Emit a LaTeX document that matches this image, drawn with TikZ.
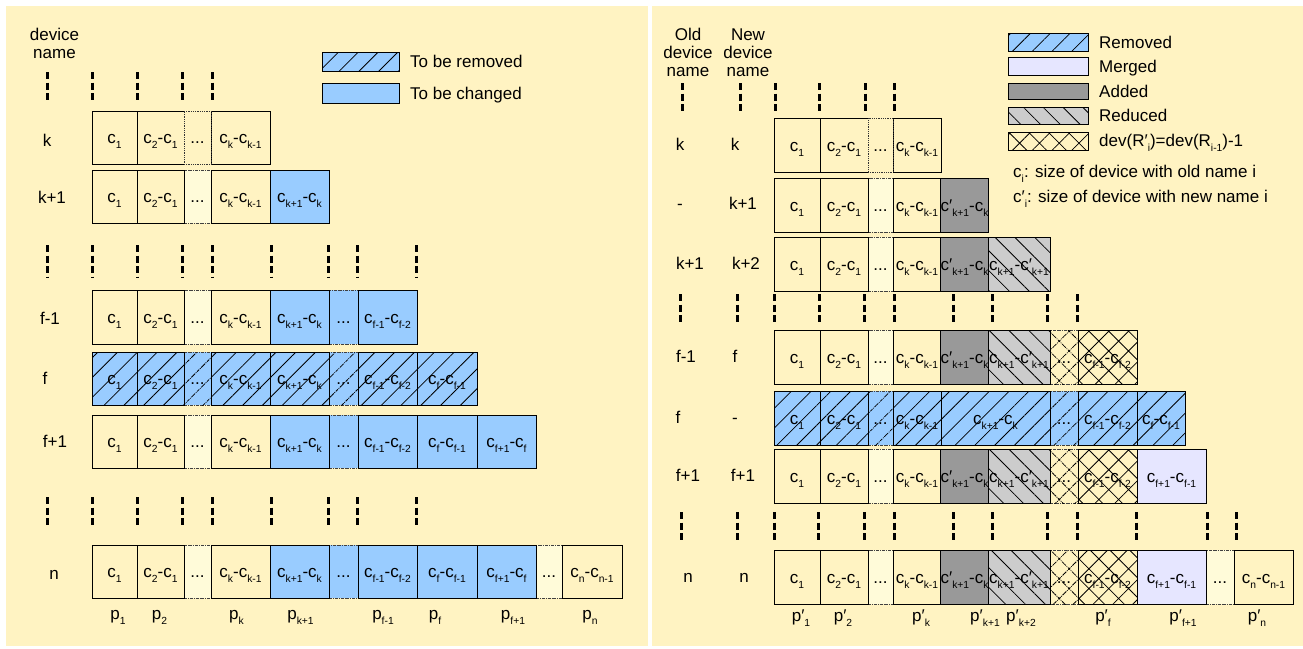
\documentclass[tikz,border=0pt]{standalone}
\usepackage{fontspec}
\setmainfont{Liberation Sans}
\usetikzlibrary{patterns.meta}

\definecolor{bgyel}{HTML}{FFF3C2}
\definecolor{paleyel}{HTML}{FFFBD9}
\definecolor{chblue}{HTML}{99CCFF}
\definecolor{addgray}{HTML}{999999}
\definecolor{redgray}{HTML}{CCCCCC}
\definecolor{mrgblue}{HTML}{E6E6FF}

% subscript and prime used in the size labels
\newcommand\sbs[1]{\raisebox{-5pt}{\fontsize{10.3}{12}\selectfont #1}}
\newcommand\pr{′}

% one cell of a device row: name, style, x1, x2, y1, y2, text
\newcommand\cell[7]{%
  \pgfmathsetmacro\cellw{#4-#3}%
  \pgfmathsetmacro\cellh{#6-#5}%
  \pgfmathsetmacro\cellx{(#3+#4)/2}%
  \pgfmathsetmacro\celly{(#5+#6)/2}%
  \node[cellbase,#2,minimum width=\cellw pt,minimum height=\cellh pt] (#1) at (\cellx,\celly) {#7};%
}

\tikzset{
  cellbase/.style={draw=black,line width=0.8pt,inner sep=0pt,outer sep=0pt,
    text height=13pt,text depth=1pt},
  plain/.style={fill=bgyel},
  dotk/.style={fill=bgyel,draw=black!80,densely dotted,line width=0.7pt},
  dotc/.style={densely dash dot,draw=black!75,line width=0.6pt},
  dotp/.style={fill=paleyel,dotc},
  chg/.style={fill=chblue},
  rem/.style={fill=chblue,postaction={pattern={Lines[angle=45,distance=14pt,line width=0.8pt]},pattern color=black}},
  addc/.style={fill=addgray},
  redc/.style={fill=redgray,postaction={pattern={Lines[angle=-45,distance=14pt,line width=0.8pt]},pattern color=black}},
  xh/.style={fill=bgyel,postaction={pattern={Hatch[angle=45,distance=14pt,line width=0.8pt]},pattern color=black}},
  mrg/.style={fill=mrgblue},
  vdash/.style={line width=3pt,dash pattern=on 7pt off 3.5pt},
  lbl/.style={anchor=base,inner sep=0pt},
  lblw/.style={anchor=base west,inner sep=0pt},
}

\begin{document}
\begin{tikzpicture}[x=1pt,y=-1pt,font=\fontsize{17}{19}\selectfont]
\useasboundingbox (0,0) rectangle (1303,648);
\fill[white] (0,0) rectangle (1303,648);
\fill[bgyel] (6,6) rectangle (648,646);
\fill[bgyel] (652,6) rectangle (1303,646);

% ---------------- left panel: before removal ----------------
\node[lbl] (hL1) at (54.5,40) {device};
\node[lbl] (hL2) at (54.5,58) {name};

\cell{lgRem}{rem}{322}{399}{52}{71}{}
\cell{lgChg}{chg}{322}{399}{83}{103}{}
\node[lblw] (tRem) at (410,67) {To be removed};
\node[lblw] (tChg) at (410,99) {To be changed};

\foreach \x in {47,92,137,182,212}
  \draw[vdash] (\x,72) -- (\x,102);
\foreach \x in {47,92,137,182,212,271,328,357,416}
  \draw[vdash] (\x,245) -- (\x,277);
\foreach \x in {47,92,137,182,212,271,328,357,416}
  \draw[vdash] (\x,497) -- (\x,528);

% row k
\node[lbl] (nk) at (47,146) {k};
\cell{Lk1}{plain}{92}{137}{111}{164}{c\sbs{1}}
\cell{Lk2}{plain}{137}{184}{111}{164}{c\sbs{2}-c\sbs{1}}
\cell{Lk4}{plain}{211}{270}{111}{164}{c\sbs{k}-c\sbs{k-1}}
\cell{Lk3}{dotk}{184}{211}{111}{164}{...}

% row k+1
\node[lbl] (nk1) at (52,203) {k+1};
\cell{La3}{dotp}{184}{211}{170}{223}{...}
\cell{La1}{plain}{92}{137}{170}{223}{c\sbs{1}}
\cell{La2}{plain}{137}{184}{170}{223}{c\sbs{2}-c\sbs{1}}
\cell{La4}{plain}{211}{270}{170}{223}{c\sbs{k}-c\sbs{k-1}}
\cell{La5}{chg}{270}{329}{170}{223}{c\sbs{k+1}-c\sbs{k}}

% row f-1
\node[lbl] (nfm) at (50,324) {f-1};
\cell{Lb3}{dotp}{184}{211}{290}{344}{...}
\cell{Lb6}{chg,dotc}{329}{358}{290}{344}{...}
\cell{Lb1}{plain}{92}{137}{290}{344}{c\sbs{1}}
\cell{Lb2}{plain}{137}{184}{290}{344}{c\sbs{2}-c\sbs{1}}
\cell{Lb4}{plain}{211}{270}{290}{344}{c\sbs{k}-c\sbs{k-1}}
\cell{Lb5}{chg}{270}{329}{290}{344}{c\sbs{k+1}-c\sbs{k}}
\cell{Lb7}{chg}{358}{417}{290}{344}{c\sbs{f-1}-c\sbs{f-2}}

% row f (removed)
\node[lbl] (nf) at (45,384) {f};
\cell{Lc3}{rem,dotc}{184}{211}{352}{405}{...}
\cell{Lc6}{rem,dotc}{329}{358}{352}{405}{...}
\cell{Lc1}{rem}{92}{137}{352}{405}{c\sbs{1}}
\cell{Lc2}{rem}{137}{184}{352}{405}{c\sbs{2}-c\sbs{1}}
\cell{Lc4}{rem}{211}{270}{352}{405}{c\sbs{k}-c\sbs{k-1}}
\cell{Lc5}{rem}{270}{329}{352}{405}{c\sbs{k+1}-c\sbs{k}}
\cell{Lc7}{rem}{358}{417}{352}{405}{c\sbs{f-1}-c\sbs{f-2}}
\cell{Lc8}{rem}{417}{477}{352}{405}{c\sbs{f}-c\sbs{f-1}}

% row f+1
\node[lbl] (nfp) at (55,447) {f+1};
\cell{Ld3}{dotp}{184}{211}{415}{468}{...}
\cell{Ld6}{chg,dotc}{329}{358}{415}{468}{...}
\cell{Ld1}{plain}{92}{137}{415}{468}{c\sbs{1}}
\cell{Ld2}{plain}{137}{184}{415}{468}{c\sbs{2}-c\sbs{1}}
\cell{Ld4}{plain}{211}{270}{415}{468}{c\sbs{k}-c\sbs{k-1}}
\cell{Ld5}{chg}{270}{329}{415}{468}{c\sbs{k+1}-c\sbs{k}}
\cell{Ld7}{chg}{358}{417}{415}{468}{c\sbs{f-1}-c\sbs{f-2}}
\cell{Ld8}{chg}{417}{477}{415}{468}{c\sbs{f}-c\sbs{f-1}}
\cell{Ld9}{chg}{477}{536}{415}{468}{c\sbs{f+1}-c\sbs{f}}

% row n
\node[lbl] (nn) at (54,579) {n};
\cell{Le3}{dotp}{184}{211}{545}{598}{...}
\cell{Le6}{chg,dotc}{329}{358}{545}{598}{...}
\cell{Le10}{dotp}{536}{562}{545}{598}{...}
\cell{Le1}{plain}{92}{137}{545}{598}{c\sbs{1}}
\cell{Le2}{plain}{137}{184}{545}{598}{c\sbs{2}-c\sbs{1}}
\cell{Le4}{plain}{211}{270}{545}{598}{c\sbs{k}-c\sbs{k-1}}
\cell{Le5}{chg}{270}{329}{545}{598}{c\sbs{k+1}-c\sbs{k}}
\cell{Le7}{chg}{358}{417}{545}{598}{c\sbs{f-1}-c\sbs{f-2}}
\cell{Le8}{chg}{417}{477}{545}{598}{c\sbs{f}-c\sbs{f-1}}
\cell{Le9}{chg}{477}{536}{545}{598}{c\sbs{f+1}-c\sbs{f}}
\cell{Le11}{plain}{562}{622}{545}{598}{c\sbs{n}-c\sbs{n-1}}

% partition labels
\node[lbl] (p1) at (118,619) {p\sbs{1}};
\node[lbl] (p2) at (159.5,619) {p\sbs{2}};
\node[lbl] (pk) at (236.5,619) {p\sbs{k}};
\node[lbl] (pk1) at (300.5,619) {p\sbs{k+1}};
\node[lbl] (pfm) at (383,619) {p\sbs{f-1}};
\node[lbl] (pf) at (435,619) {p\sbs{f}};
\node[lbl] (pfp) at (513,619) {p\sbs{f+1}};
\node[lbl] (pn) at (590,619) {p\sbs{n}};

% ---------------- right panel: after removal ----------------
\node[lbl] (hR1) at (688,40) {Old};
\node[lbl] (hR2) at (688,58) {device};
\node[lbl] (hR3) at (688,76) {name};
\node[lbl] (hR4) at (748,40) {New};
\node[lbl] (hR5) at (748,58) {device};
\node[lbl] (hR6) at (748,76) {name};

\cell{lgRemR}{rem}{1008}{1088}{33}{51}{}
\cell{lgMrg}{mrg}{1008}{1088}{57}{75}{}
\cell{lgAdd}{addc}{1008}{1088}{83}{99}{}
\cell{lgRed}{redc}{1008}{1088}{107}{124}{}
\cell{lgXh}{xh}{1008}{1088}{132}{150}{}
\node[lblw] (tRemR) at (1099,48) {Removed};
\node[lblw] (tMrg) at (1099,72) {Merged};
\node[lblw] (tAdd) at (1099,97) {Added};
\node[lblw] (tRed) at (1099,121) {Reduced};
\node[lblw] (tXh) at (1099,146) {dev(R\pr\sbs{i})=dev(R\sbs{i-1})-1};
\node[lblw] (tOld) at (1013,177) {c\sbs{i}: size of device with old name i};
\node[lblw] (tNew) at (1013,202) {c\pr\sbs{i}: size of device with new name i};

\foreach \x in {682,740,775,819,865,894}
  \draw[vdash] (\x,83) -- (\x,113);
\foreach \x in {680,737,774,819,864,894,953,992,1047,1077}
  \draw[vdash] (\x,294) -- (\x,325);
\foreach \x in {681,737,774,818,864,894,953,992,1047,1077,1136,1207,1236}
  \draw[vdash] (\x,512) -- (\x,543);

% row k / k
\node[lbl] (o1) at (680,150) {k};
\node[lbl] (w1) at (735,150) {k};
\cell{Ra1}{plain}{774}{820}{118}{172}{c\sbs{1}}
\cell{Ra2}{plain}{820}{868}{118}{172}{c\sbs{2}-c\sbs{1}}
\cell{Ra4}{plain}{893}{941}{118}{172}{c\sbs{k}-c\sbs{k-1}}
\cell{Ra3}{dotk}{868}{893}{118}{172}{...}

% row - / k+1
\node[lbl] (o2) at (680,209) {-};
\node[lbl] (w2) at (743,209) {k+1};
\cell{Rb3}{dotp}{868}{893}{178}{232}{...}
\cell{Rb1}{plain}{774}{820}{178}{232}{c\sbs{1}}
\cell{Rb2}{plain}{820}{868}{178}{232}{c\sbs{2}-c\sbs{1}}
\cell{Rb4}{plain}{893}{941}{178}{232}{c\sbs{k}-c\sbs{k-1}}
\cell{Rb5}{addc}{941}{988}{178}{232}{c\pr\sbs{k+1}-c\sbs{k}}

% row k+1 / k+2
\node[lbl] (o3) at (690,269) {k+1};
\node[lbl] (w3) at (746,269) {k+2};
\cell{Rc3}{dotp}{868}{893}{237}{291}{...}
\cell{Rc1}{plain}{774}{820}{237}{291}{c\sbs{1}}
\cell{Rc2}{plain}{820}{868}{237}{291}{c\sbs{2}-c\sbs{1}}
\cell{Rc4}{plain}{893}{941}{237}{291}{c\sbs{k}-c\sbs{k-1}}
\cell{Rc5}{addc}{941}{988}{237}{291}{c\pr\sbs{k+1}-c\sbs{k}}
\cell{Rc6}{redc}{988}{1050}{237}{291}{c\sbs{k+1}-c\pr\sbs{k+1}}

% row f-1 / f
\node[lbl] (o4) at (686,362) {f-1};
\node[lbl] (w4) at (735,362) {f};
\cell{Rd3}{dotp}{868}{893}{330}{384}{...}
\cell{Rd7}{xh,dotc}{1050}{1078}{330}{384}{...}
\cell{Rd1}{plain}{774}{820}{330}{384}{c\sbs{1}}
\cell{Rd2}{plain}{820}{868}{330}{384}{c\sbs{2}-c\sbs{1}}
\cell{Rd4}{plain}{893}{941}{330}{384}{c\sbs{k}-c\sbs{k-1}}
\cell{Rd5}{addc}{941}{988}{330}{384}{c\pr\sbs{k+1}-c\sbs{k}}
\cell{Rd6}{redc}{988}{1050}{330}{384}{c\sbs{k+1}-c\pr\sbs{k+1}}
\cell{Rd8}{xh}{1078}{1137}{330}{384}{c\sbs{f-1}-c\sbs{f-2}}

% row f / - (removed)
\node[lbl] (o5) at (678,423) {f};
\node[lbl] (w5) at (735,423) {-};
\cell{Re3}{rem,dotc}{868}{893}{391}{445}{...}
\cell{Re6}{rem,dotc}{1050}{1078}{391}{445}{...}
\cell{Re1}{rem}{774}{820}{391}{445}{c\sbs{1}}
\cell{Re2}{rem}{820}{868}{391}{445}{c\sbs{2}-c\sbs{1}}
\cell{Re4}{rem}{893}{941}{391}{445}{c\sbs{k}-c\sbs{k-1}}
\cell{Re5}{rem}{941}{1050}{391}{445}{c\sbs{k+1}-c\sbs{k}}
\cell{Re7}{rem}{1078}{1137}{391}{445}{c\sbs{f-1}-c\sbs{f-2}}
\cell{Re8}{rem}{1137}{1185}{391}{445}{c\sbs{f}-c\sbs{f-1}}

% row f+1 / f+1
\node[lbl] (o6) at (688,481) {f+1};
\node[lbl] (w6) at (743,481) {f+1};
\cell{Rf3}{dotp}{868}{893}{449}{503}{...}
\cell{Rf7}{xh,dotc}{1050}{1078}{449}{503}{...}
\cell{Rf1}{plain}{774}{820}{449}{503}{c\sbs{1}}
\cell{Rf2}{plain}{820}{868}{449}{503}{c\sbs{2}-c\sbs{1}}
\cell{Rf4}{plain}{893}{941}{449}{503}{c\sbs{k}-c\sbs{k-1}}
\cell{Rf5}{addc}{941}{988}{449}{503}{c\pr\sbs{k+1}-c\sbs{k}}
\cell{Rf6}{redc}{988}{1050}{449}{503}{c\sbs{k+1}-c\pr\sbs{k+1}}
\cell{Rf8}{xh}{1078}{1137}{449}{503}{c\sbs{f-1}-c\sbs{f-2}}
\cell{Rf9}{mrg}{1137}{1206}{449}{503}{c\sbs{f+1}-c\sbs{f-1}}

% row n / n
\node[lbl] (o7) at (688,582) {n};
\node[lbl] (w7) at (744,582) {n};
\cell{Rg3}{dotp}{868}{893}{550}{604}{...}
\cell{Rg7}{xh,dotc}{1050}{1078}{550}{604}{...}
\cell{Rg10}{dotp}{1206}{1234}{550}{604}{...}
\cell{Rg1}{plain}{774}{820}{550}{604}{c\sbs{1}}
\cell{Rg2}{plain}{820}{868}{550}{604}{c\sbs{2}-c\sbs{1}}
\cell{Rg4}{plain}{893}{941}{550}{604}{c\sbs{k}-c\sbs{k-1}}
\cell{Rg5}{addc}{941}{988}{550}{604}{c\pr\sbs{k+1}-c\sbs{k}}
\cell{Rg6}{redc}{988}{1050}{550}{604}{c\sbs{k+1}-c\pr\sbs{k+1}}
\cell{Rg8}{xh}{1078}{1137}{550}{604}{c\sbs{f-1}-c\sbs{f-2}}
\cell{Rg9}{mrg}{1137}{1206}{550}{604}{c\sbs{f+1}-c\sbs{f-1}}
\cell{Rg11}{plain}{1234}{1293}{550}{604}{c\sbs{n}-c\sbs{n-1}}

% new partition labels
\node[lbl] (q1) at (801,621) {p\pr\sbs{1}};
\node[lbl] (q2) at (843,621) {p\pr\sbs{2}};
\node[lbl] (qk) at (921,621) {p\pr\sbs{k}};
\node[lbl] (qk1) at (985,621) {p\pr\sbs{k+1}};
\node[lbl] (qk2) at (1021,621) {p\pr\sbs{k+2}};
\node[lbl] (qf) at (1103,621) {p\pr\sbs{f}};
\node[lbl] (qfp) at (1183,621) {p\pr\sbs{f+1}};
\node[lbl] (qn) at (1257,621) {p\pr\sbs{n}};
\end{tikzpicture}
\end{document}
